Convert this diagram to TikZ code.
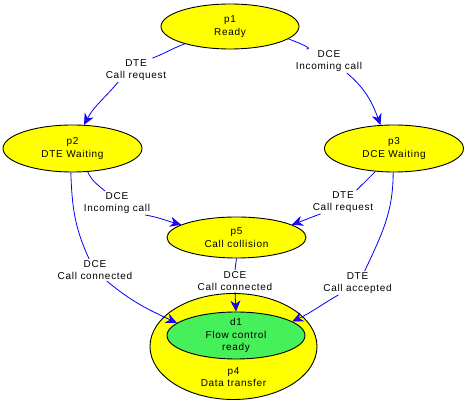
\documentclass[tikz,border=0pt]{standalone}
\usepackage{fontspec}
\setmainfont{Liberation Sans}[LetterSpace=7]
\usetikzlibrary{shapes.geometric,arrows.meta}
\definecolor{edgeblue}{RGB}{0,0,255}
\definecolor{tipfill}{RGB}{60,0,225}
\definecolor{stateyellow}{RGB}{255,255,0}
\definecolor{flowgreen}{RGB}{70,240,90}
\begin{document}
\begin{tikzpicture}[x=1pt,y=1pt,
  txt/.style={align=center,font=\fontsize{10}{12.5}\selectfont,inner sep=1pt},
  state/.style={ellipse,draw=black,line width=0.9pt,fill=stateyellow,inner sep=0pt},
  lbl/.style={txt},
  edge/.style={draw=edgeblue,line width=0.8pt},
  arr/.style={edge,-{Stealth[length=11pt,width=10pt,inset=3.5pt,fill=tipfill]}}
]
\useasboundingbox (0,0) rectangle (466,409);

% states
\node[state,minimum width=138pt,minimum height=45pt,label={[txt]center:{p1\\Ready}}] (p1) at (230,382.5) {};
\node[state,minimum width=139pt,minimum height=47pt,label={[txt]center:{p2\\DTE Waiting}}] (p2) at (72.5,260.5) {};
\node[state,minimum width=139pt,minimum height=47pt,label={[txt]center:{p3\\DCE Waiting}}] (p3) at (394,260.5) {};
\node[state,minimum width=139pt,minimum height=41pt,label={[txt]center:{p5\\Call collision}}] (p5) at (236.5,171.5) {};
\node[state,minimum width=167pt,minimum height=106pt,label={[txt,yshift=-30.5pt]center:{p4\\Data transfer}}] (p4) at (233.5,62.5) {};
\node[state,fill=flowgreen,minimum width=138pt,minimum height=47pt,label={[txt]center:{d1\\Flow control\\ready}}] (d1) at (236,73.5) {};

% edge labels
\node[lbl] (l1) at (136,339) {DTE\\Call request};
\node[lbl] (l2) at (329,348) {DCE\\Incoming call};
\node[lbl] (l3) at (117,206) {DCE\\Incoming call};
\node[lbl] (l4) at (343,207) {DTE\\Call request};
\node[lbl] (l5) at (95,139) {DCE\\Call connected};
\node[lbl] (l6) at (235,128) {DCE\\Call connected};
\node[lbl] (l7) at (357.5,126) {DTE\\Call accepted};

% p1 -> p2
\draw[edge] (p1.201) to[out=200,in=20] (l1.36);
\draw[arr] (l1.214) to[out=230,in=62] (p2.64);
% p1 -> p3
\draw[edge] (p1.-12) to[out=-20,in=0] (l2.152);
\draw[arr] (l2.-34) to[out=-40,in=110] (p3.120);
% p2 -> p5
\draw[edge] (p2.-57) to[out=-65,in=140] (l3.135);
\draw[arr] (l3.-23) to[out=-10,in=165] (p5.167);
% p2 -> d1
\draw[edge] (p2.-94) to[out=-88,in=115] (l5.118);
\draw[arr] (l5.-43) to[out=-40,in=155] (d1.168);
% p3 -> p5
\draw[edge] (p3.231) to[out=225,in=45] (l4.41);
\draw[arr] (l4.208) to[out=200,in=20] (p5.13);
% p3 -> d1
\draw[edge] (p3.-92) to[out=-90,in=65] (l7.59);
\draw[arr] (l7.212) to[out=210,in=25] (d1.14.5);
% p5 -> d1
\draw[edge] (p5.south) -- (l6.north);
\draw[arr] (l6.south) -- (d1.north);
\end{tikzpicture}
\end{document}
